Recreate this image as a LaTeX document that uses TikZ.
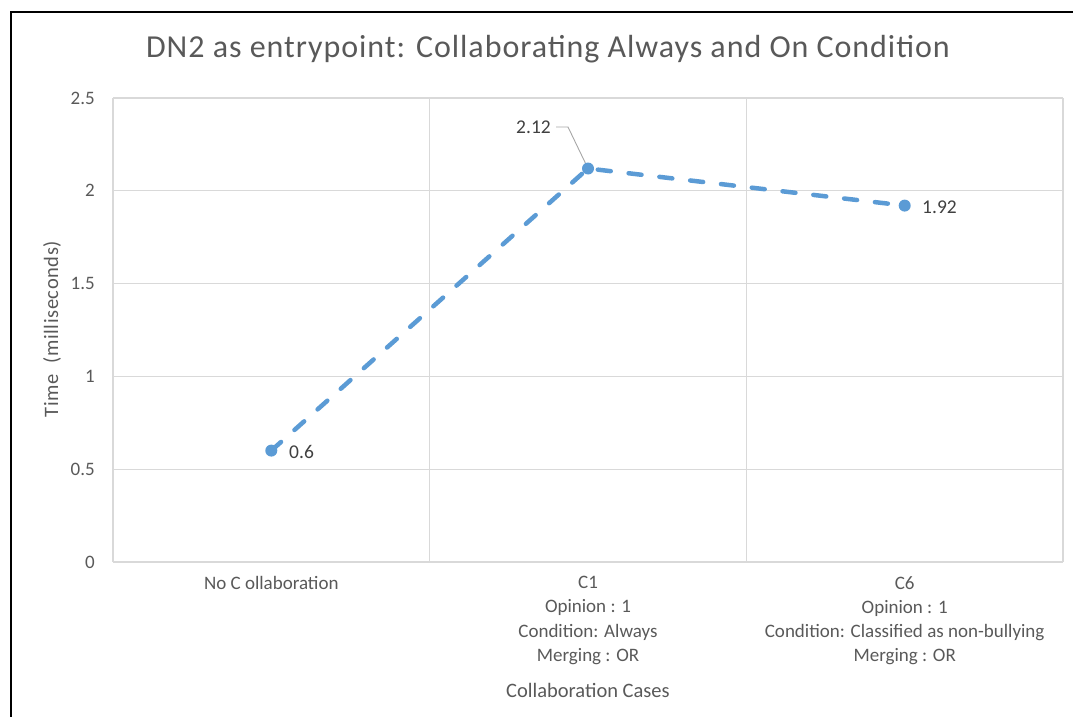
\documentclass[tikz,border=0pt]{standalone}
\usepackage{fontspec}
\setmainfont{Carlito}
\usetikzlibrary{positioning}
\definecolor{seriesblue}{HTML}{5B9BD5}
\definecolor{gridgray}{HTML}{D9D9D9}
\definecolor{labelgray}{HTML}{595959}
\begin{document}
\begin{tikzpicture}[x=1pt, y=-1pt, grid/.style={gridgray, line width=1.2pt}, ticklabel/.style={font=\fontsize{19}{21}\selectfont, text=labelgray, anchor=east, inner sep=0pt}, catlabel/.style={font=\fontsize{19}{24.3}\selectfont, text=labelgray, align=center, anchor=north, inner sep=0pt}, axistitle/.style={font=\fontsize{20.5}{23}\selectfont, text=labelgray}, dataline/.style={seriesblue, line width=4.5pt, line cap=round, dash pattern=on 13pt off 18pt}, dot/.style={circle, fill=seriesblue, inner sep=0pt, minimum size=12pt}, datalabel/.style={font=\fontsize{19.5}{21}\selectfont, text=black!75, inner sep=0pt}]
\useasboundingbox (0,0) rectangle (1073,717);
\draw[line width=2pt] (10.5,717) -- (10.5,12) -- (1073,12);
\node[font=\fontsize{32}{36}\selectfont\addfontfeature{LetterSpace=3}, text=labelgray] (title) at (548,49) {DN2 as entrypoint: Collaborating Always and On Condition};
% grid and value axis
\foreach \v in {0,0.5,1,1.5,2,2.5} {
  \draw[grid] (113,{562-185.6*\v}) -- (1063,{562-185.6*\v});
  \node[ticklabel] at (95,{562-185.6*\v}) {\v};
}
\foreach \x in {113,429.7,746.3,1063} \draw[grid] (\x,98) -- (\x,562);
\node[axistitle, rotate=90, font=\fontsize{20.5}{23}\selectfont\addfontfeature{LetterSpace=3}] (ytitle) at (52,329) {Time\ \ (milliseconds)};
% categories
\node[catlabel] (nocollab) at (271.3,576) {No C ollaboration};
\node[catlabel] (caseone) at (588,576) {C1\\Opinion : 1\\Condition: Always\\Merging : OR};
\node[catlabel] (casesix) at (904.7,576) {C6\\Opinion : 1\\Condition: Classified as non-bullying\\Merging : OR};
\node[axistitle] (xtitle) at (588,690) {Collaboration Cases};
% series
\coordinate (c1) at (271.3,450.6);
\coordinate (c2) at (588,168.5);
\coordinate (c3) at (904.7,205.6);
\draw[dataline] (c1) -- (c2) -- (c3);
\node[datalabel, anchor=west] (lab1) at (289,452) {0.6};
\node[datalabel, anchor=east] (lab2) at (551,127) {2.12};
\node[datalabel, anchor=west] (lab3) at (922,207) {1.92};
\draw[gray!70, line width=0.9pt] (lab2.east) ++(5,0) -- ++(12,0) -- (c2);
\node[dot] (p1) at (c1) {};
\node[dot] (p2) at (c2) {};
\node[dot] (p3) at (c3) {};
\end{tikzpicture}
\end{document}
